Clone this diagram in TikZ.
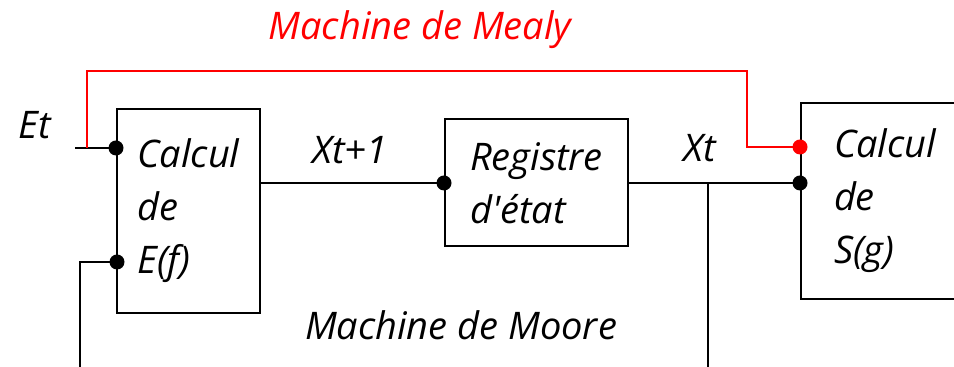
\documentclass[tikz,border=0pt]{standalone}
\usepackage{fontspec}
\setsansfont{Open Sans}
\usetikzlibrary{positioning}

\begin{document}
\begin{tikzpicture}[x=0.5pt,y=-0.5pt,line width=1pt,
   every node/.style={font=\sffamily\itshape\fontsize{19}{26.5}\selectfont},
   bloc/.style={draw,align=left,inner sep=0pt},
   point/.style={circle,fill,inner sep=0pt,minimum size=7.5pt}]
\clip (0,0) rectangle (954,367);
% blocs
\node[bloc,minimum width=71.5pt,minimum height=102pt] (calcE) at (188.5,211)
   {Calcul\\de\\E(f)};
\node[bloc,minimum width=91.5pt,minimum height=63.5pt] (reg) at (536.5,183)
   {Registre\\d\textquotesingle\'etat};
\node[bloc,anchor=west,text width=70pt,inner xsep=16.5pt,minimum height=98pt] (calcS) at (800,201)
   {Calcul\\de\\S(g)};
% entrees / sorties
\coordinate (et) at (75,148);
\coordinate (boucle) at (80,367);
\coordinate (xt) at (708,367);
\coordinate (e1) at (calcE.west |- et);
\coordinate (e2) at (117,262);
\coordinate (s1) at (800,147);
\coordinate (s2) at (calcS.west |- reg.east);
\coordinate (b) at (xt |- reg.east);
\draw (et) -- (e1);
\draw (boucle) |- (e2);
\draw (reg.west -| calcE.east) -- (reg.west);
\draw (reg.east) -- (s2);
\draw (b) -- (xt);
\draw[red] (87,148) |- (747,71) |- (s1);
\node[point] at (e1) {};
\node[point] at (e2) {};
\node[point] at (reg.west) {};
\node[point] at (s2) {};
\node[point,red] at (s1) {};
% textes
\node (tEt) at (35,125) {Et};
\node (tXt1) at (350,150) {Xt+1};
\node (tXt) at (700,148) {Xt};
\node (moore) at (461,325) {Machine de Moore};
\node[red] (mealy) at (420,30) {Machine de Mealy};
\end{tikzpicture}
\end{document}
